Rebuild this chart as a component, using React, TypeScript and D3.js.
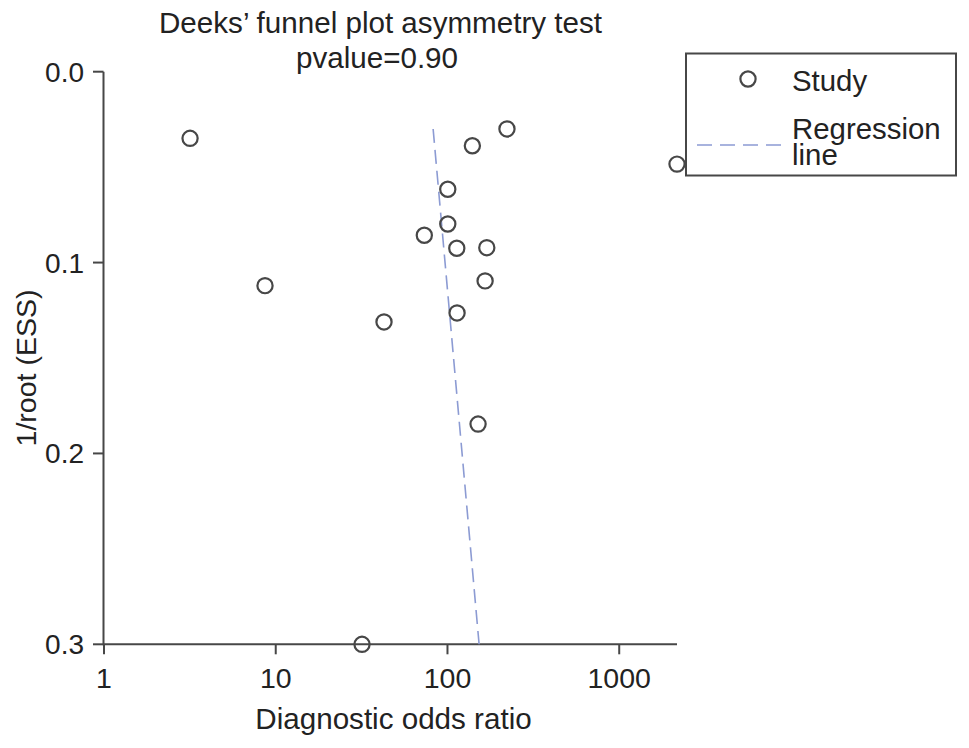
import * as d3 from "d3";

// Deeks' funnel plot: diagnostic odds ratio vs 1/sqrt(ESS)
const studyDor = [3.17, 8.66, 31.8, 42.7, 73.3, 100.4, 100.4, 113.3, 113.7, 139.6, 169.4, 165.6, 150.7, 222, 2170];
const studyInvRootEss = [0.0349, 0.1121, 0.3, 0.1311, 0.0857, 0.0616, 0.0798, 0.0925, 0.1264, 0.0388, 0.0922, 0.1096, 0.1846, 0.03, 0.0484];

const regressionDor = [82.5, 152.8];
const regressionInvRootEss = [0.03, 0.3];

const xTicks = [1, 10, 100, 1000];
const yTicks = [0, 0.1, 0.2, 0.3];

const W = 969;
const H = 748;
const font = "'Liberation Sans', Arial, Helvetica, sans-serif";
const ink = "#222";
const axisCol = "#474747";

export default function App() {
  const x = d3
    .scaleLog()
    .domain([1, d3.max(studyDor) as number])
    .range([104, 677]);
  const y = d3.scaleLinear().domain([0, 0.3]).range([71.7, 644.3]);

  const regLine = d3
    .line<number>()
    .x((d) => x(regressionDor[d]))
    .y((d) => y(regressionInvRootEss[d]))([0, 1]);

  const fmtY = d3.format(".1f");

  return (
    <svg
      width={W}
      height={H}
      style={{ position: "absolute", left: 0, top: 0, background: "#fff" }}
      fontFamily={font}
    >
      {/* title */}
      <text x={380.5} y={33} textAnchor="middle" fontSize={29.6} fill={ink}>
        Deeks’ funnel plot asymmetry test
      </text>
      <text x={377} y={68} textAnchor="middle" fontSize={29.6} fill={ink}>
        pvalue=0.90
      </text>

      {/* y axis */}
      <line x1={103.5} x2={103.5} y1={y(0)} y2={y(0.3) + 1} stroke={axisCol} strokeWidth={2} />
      {yTicks.map((t) => (
        <g key={"y" + t}>
          <line x1={93} x2={103.5} y1={y(t)} y2={y(t)} stroke={axisCol} strokeWidth={2} />
          <text x={84} y={y(t) + 10} textAnchor="end" fontSize={28} fill={ink}>
            {fmtY(t)}
          </text>
        </g>
      ))}
      <text
        transform="translate(36,368) rotate(-90)"
        textAnchor="middle"
        fontSize={28.5}
        fill={ink}
      >
        1/root (ESS)
      </text>

      {/* x axis */}
      <line x1={103.5} x2={x.range()[1]} y1={y(0.3)} y2={y(0.3)} stroke={axisCol} strokeWidth={2} />
      {xTicks.map((t) => (
        <g key={"x" + t}>
          <line x1={x(t)} x2={x(t)} y1={y(0.3)} y2={y(0.3) + 10} stroke={axisCol} strokeWidth={2} />
          <text x={x(t)} y={688} textAnchor="middle" fontSize={28.5} fill={ink}>
            {t}
          </text>
        </g>
      ))}
      <text x={393.5} y={729} textAnchor="middle" fontSize={29.6} fill={ink}>
        Diagnostic odds ratio
      </text>

      {/* regression line */}
      <path
        d={regLine ?? ""}
        fill="none"
        stroke="#8c9bd3"
        strokeWidth={1.6}
        strokeDasharray="14,7"
      />

      {/* studies */}
      {studyDor.map((d, i) => (
        <circle
          key={"s" + i}
          cx={x(d)}
          cy={y(studyInvRootEss[i])}
          r={7.6}
          fill="none"
          stroke={axisCol}
          strokeWidth={2.2}
        />
      ))}

      {/* legend */}
      <rect x={686} y={53.5} width={270} height={122} fill="#fff" stroke={axisCol} strokeWidth={2} />
      <circle cx={748} cy={79} r={7.6} fill="none" stroke={axisCol} strokeWidth={2.2} />
      <text x={792} y={91} fontSize={29.4} fill={ink}>
        Study
      </text>
      <line x1={697} x2={784} y1={145} y2={145} stroke="#8c9bd3" strokeWidth={1.6} strokeDasharray="15,8" />
      <text x={792} y={139} fontSize={29.4} fill={ink}>
        Regression
      </text>
      <text x={792} y={165} fontSize={29.4} fill={ink}>
        line
      </text>
    </svg>
  );
}
